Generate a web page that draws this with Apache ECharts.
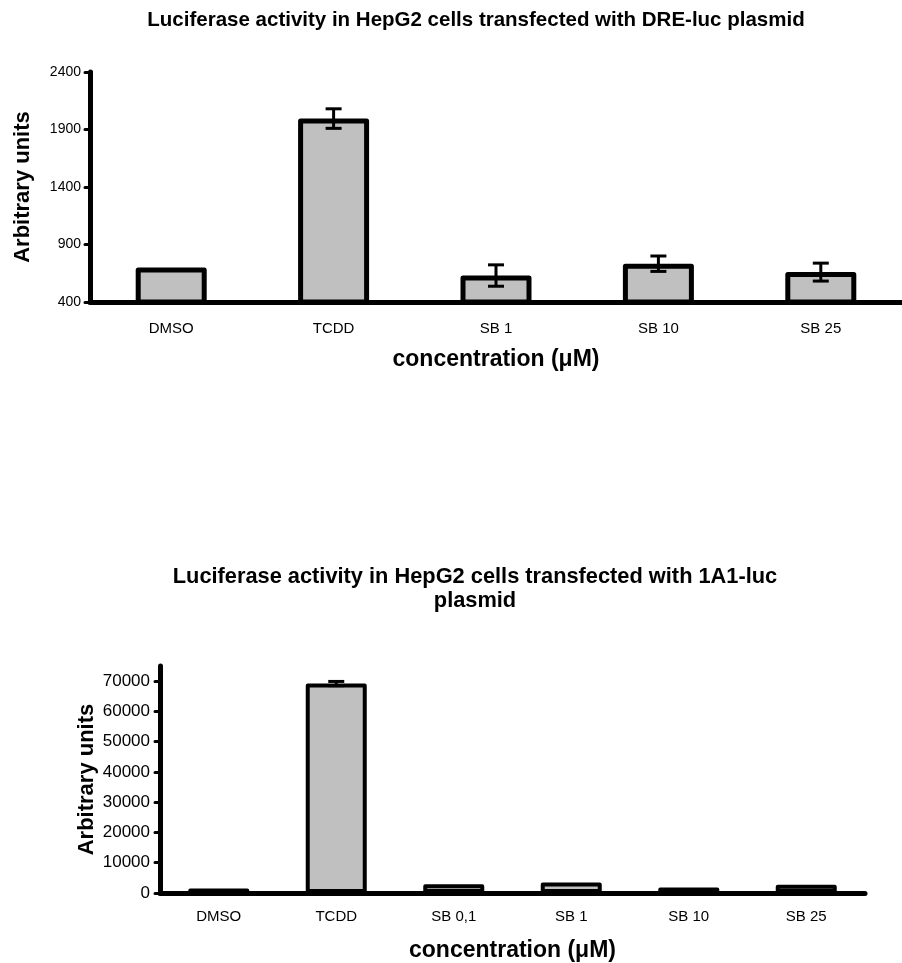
<!DOCTYPE html>
<html>
<head>
<meta charset="utf-8">
<title>Luciferase activity</title>
<script src="https://cdn.jsdelivr.net/npm/echarts@6/dist/echarts.min.js"></script>
<style>
  html, body { margin: 0; padding: 0; background: #fff; }
  #chart { width: 902px; height: 963px; }
</style>
</head>
<body>
<div id="chart"></div>
<script>
// top panel: DRE-luc
const catsDre = ['DMSO', 'TCDD', 'SB 1', 'SB 10', 'SB 25']
const valsDre = [700, 1995, 630, 733, 660]
const errDre = [0, 85, 93, 67, 78]
const ticksDre = [400, 900, 1400, 1900, 2400]

// bottom panel: 1A1-luc
const cats1A1 = ['DMSO', 'TCDD', 'SB 0,1', 'SB 1', 'SB 10', 'SB 25']
const vals1A1 = [1500, 69200, 2900, 3500, 1800, 2700]
const err1A1 = [0, 700, 0, 0, 0, 0]
const ticks1A1 = [0, 10000, 20000, 30000, 40000, 50000, 60000, 70000]

const FONT = 'Liberation Sans, Arial, sans-serif'

const chart = echarts.init(document.getElementById('chart'))

function xAxisOpt(grid, cats, margin) {
  return {
    gridIndex: grid,
    type: 'category',
    data: cats,
    axisLine: { lineStyle: { color: '#000', width: 5 } },
    axisTick: { length: 5, lineStyle: { color: '#000', width: 3, cap: 'round' } },
    axisLabel: { color: '#000', fontSize: 15, fontFamily: FONT, margin: margin },
    name: 'concentration (\u03bcM)',
    nameLocation: 'middle',
    nameGap: 46,
    nameMoveOverlap: false,
    nameTextStyle: { color: '#000', fontSize: 23, fontWeight: 'bold', fontFamily: FONT }
  }
}

function yAxisOpt(grid, min, max, ticks, fontSize, margin, nameGap) {
  return {
    gridIndex: grid,
    type: 'value',
    min: min,
    max: max,
    splitLine: { show: false },
    axisLine: { show: true, lineStyle: { color: '#000', width: 5 } },
    axisTick: { show: true, length: 5, customValues: ticks, lineStyle: { color: '#000', width: 3, cap: 'round' } },
    axisLabel: {
      color: '#000',
      fontSize: fontSize,
      fontFamily: FONT,
      margin: margin,
      customValues: ticks,
      formatter: v => String(v)
    },
    name: 'Arbitrary units',
    nameLocation: 'middle',
    nameRotate: 90,
    nameGap: nameGap,
    nameMoveOverlap: false,
    nameTextStyle: { color: '#000', fontSize: 22, fontWeight: 'bold', fontFamily: FONT }
  }
}

function barSeries(idx, vals, width, border) {
  return {
    type: 'bar',
    xAxisIndex: idx,
    yAxisIndex: idx,
    data: vals,
    barWidth: width,
    itemStyle: { color: '#c0c0c0', borderColor: '#000', borderWidth: border, borderJoin: 'round' },
    z: 2
  }
}

// error bars drawn with the axis coords
function errSeries(idx, vals, errs) {
  return {
    type: 'custom',
    xAxisIndex: idx,
    yAxisIndex: idx,
    data: vals.map((v, i) => [i, v, errs[i]]),
    z: 3,
    renderItem(params, api) {
      const i = api.value(0)
      const v = api.value(1)
      const e = api.value(2)
      if (!e) return null
      const hi = api.coord([i, v + e])
      const lo = api.coord([i, v - e])
      const half = 8
      const style = { stroke: '#000', lineWidth: 3 }
      return {
        type: 'group',
        children: [
          { type: 'line', shape: { x1: hi[0], y1: hi[1], x2: lo[0], y2: lo[1] }, style },
          { type: 'line', shape: { x1: hi[0] - half, y1: hi[1], x2: hi[0] + half, y2: hi[1] }, style },
          { type: 'line', shape: { x1: lo[0] - half, y1: lo[1], x2: lo[0] + half, y2: lo[1] }, style }
        ]
      }
    }
  }
}

const option = {
  animation: false,
  backgroundColor: '#fff',
  graphic: [
    {
      type: 'text',
      x: 476,
      y: 20,
      style: {
        text: 'Luciferase activity in HepG2 cells transfected with DRE-luc plasmid',
        fill: '#000',
        font: 'bold 20.5px ' + FONT,
        textAlign: 'center',
        textVerticalAlign: 'middle'
      }
    },
    {
      type: 'text',
      x: 475,
      y: 565,
      style: {
        text: 'Luciferase activity in HepG2 cells transfected with 1A1-luc\nplasmid',
        fill: '#000',
        font: 'bold 21.8px ' + FONT,
        lineHeight: 24,
        textAlign: 'center',
        textVerticalAlign: 'top'
      }
    }
  ],
  grid: [
    { left: 90, top: 72, width: 820, height: 230 },
    { left: 160, top: 666, width: 705, height: 227 }
  ],
  xAxis: [
    xAxisOpt(0, catsDre, 19),
    xAxisOpt(1, cats1A1, 16)
  ],
  yAxis: [
    yAxisOpt(0, 400, 2400, ticksDre, 14, 9, 56),
    yAxisOpt(1, 0, 75000, ticks1A1, 17, 10, 62)
  ],
  series: [
    barSeries(0, valsDre, 71, 5),
    errSeries(0, valsDre, errDre),
    barSeries(1, vals1A1, 61, 4),
    errSeries(1, vals1A1, err1A1)
  ]
}

chart.setOption(option)
</script>
</body>
</html>
